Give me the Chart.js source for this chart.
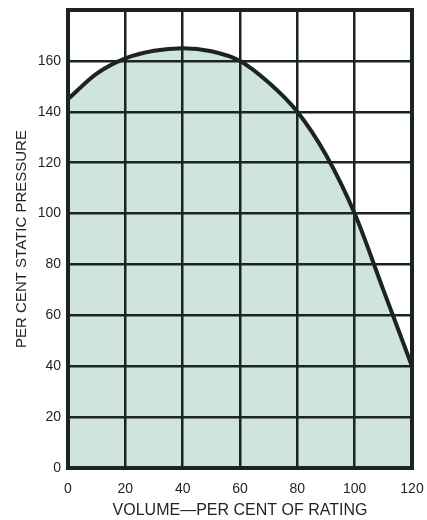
<!DOCTYPE html>
<html>
<head>
<meta charset="utf-8">
<script src="https://cdn.jsdelivr.net/npm/chart.js@4"></script>
<style>
  html, body { margin: 0; padding: 0; background: #fff; }
  #wrap { width: 427px; height: 520px; }
</style>
</head>
<body>
<div id="wrap"><canvas id="mycanvas" width="427" height="520"></canvas></div>
<script>
// volume (% of rating) and static pressure (%)
var volume = [0, 10, 20, 30, 40, 50, 60, 70, 80, 90, 100, 110, 120];
var pressure = [145, 155, 161, 164, 165, 163.8, 160, 151.5, 140, 123, 100, 70, 40];

var xTicks = [0, 20, 40, 60, 80, 100, 120];
var yTicks = [0, 20, 40, 60, 80, 100, 120, 140, 160];

var ink = '#1b2420';

var points = [];
for (var i in volume) {
	points.push({ x: volume[i], y: pressure[i] });
}

var ctx = document.getElementById('mycanvas');

var chart = new Chart(ctx, {
	type: 'line',
	data: {
		datasets: [{
			data: points,
			borderColor: ink,
			borderWidth: 4,
			backgroundColor: '#cfe3df',
			fill: 'origin',
			pointRadius: 0,
			cubicInterpolationMode: 'monotone'
		}]
	},
	options: {
		responsive: false,
		animation: false,
		layout: { padding: { top: 10, right: 15, left: 0, bottom: 0 } },
		plugins: { legend: { display: false }, tooltip: { enabled: false } },
		scales: {
			x: {
				type: 'linear',
				min: 0,
				max: 120,
				afterBuildTicks: function(scale) {
					scale.ticks = xTicks.map(function(v) { return { value: v }; });
				},
				afterFit: function(scale) {
					scale.height = 52;
					scale.paddingLeft = 0;
					scale.paddingRight = 0;
				},
				grid: { color: ink, lineWidth: 2.5, drawTicks: false, z: 1 },
				border: { color: ink, width: 4, z: 1 },
				ticks: {
					padding: 13,
					color: ink,
					maxRotation: 0,
					font: { family: 'Liberation Sans', size: 14 }
				},
				title: {
					display: true,
					text: 'VOLUME\u2014PER CENT OF RATING',
					color: ink,
					padding: { top: 0, bottom: 0 },
					font: { family: 'Liberation Sans', size: 16 }
				}
			},
			y: {
				min: 0,
				max: 180,
				afterBuildTicks: function(scale) {
					var t = yTicks.map(function(v) { return { value: v }; });
					t.push({ value: 180 });
					scale.ticks = t;
				},
				afterFit: function(scale) {
					scale.width = 68;
					scale.paddingTop = 0;
					scale.paddingBottom = 0;
				},
				grid: { color: ink, lineWidth: 2.5, drawTicks: false, z: 1 },
				border: { color: ink, width: 4, z: 1 },
				ticks: {
					padding: 7,
					color: ink,
					font: { family: 'Liberation Sans', size: 14 },
					callback: function(v) { return v === 180 ? '' : v; }
				},
				title: {
					display: true,
					text: 'PER CENT STATIC PRESSURE',
					color: ink,
					padding: { top: 13, bottom: 0 },
					font: { family: 'Liberation Sans', size: 15 }
				}
			}
		}
	},
	plugins: [{
		// top and right edges of the frame
		id: 'frame',
		afterDraw: function(c) {
			var a = c.chartArea, g = c.ctx;
			g.save();
			g.strokeStyle = ink;
			g.lineWidth = 4;
			g.strokeRect(a.left, a.top, a.right - a.left, a.bottom - a.top);
			g.restore();
		}
	}]
});
</script>
</body>
</html>
